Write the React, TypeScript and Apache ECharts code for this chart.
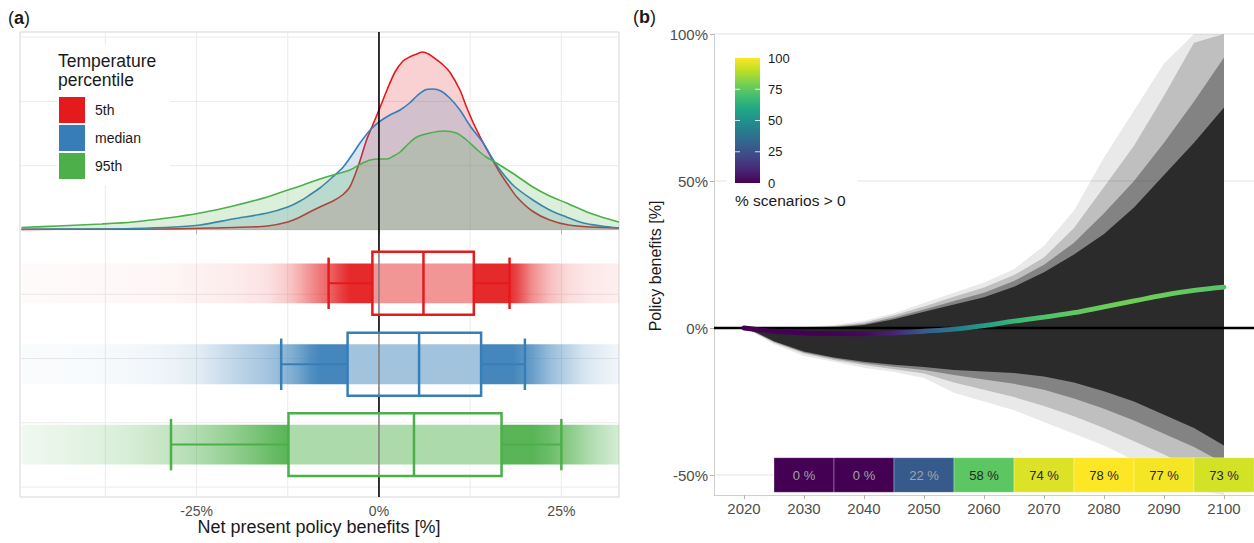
import { useEffect, useRef } from 'react';
import * as echarts from 'echarts';

// ================= Panel (a) data =================
const percentileNames = ['5th', 'median', '95th'];
const percentileColors = ['#e41a1c', '#377eb8', '#4daf4a'];
const xTicksA = [-25, 0, 25];
const xGridA = [-37.5, -25, -12.5, 12.5, 25];

// relative density vs net present policy benefits [%]
const density5th: [number, number][] = [
  [-49, 0.5], [-40, 0.8], [-30, 1], [-24.5, 1.8], [-20, 2.5], [-15.3, 4], [-12.5, 8], [-10.8, 13],
  [-9.5, 18], [-8.1, 23], [-6.3, 29], [-5, 35], [-4, 43], [-2.8, 65], [-1.7, 90], [-0.8, 106],
  [0, 120], [1.1, 140], [2.2, 158], [3.3, 169], [4.2, 173], [5.2, 176], [6.0, 178], [6.8, 176],
  [7.4, 173], [8.8, 165], [9.7, 158], [11.1, 140], [12.0, 123], [13.0, 106], [14.3, 87], [15.5, 71],
  [16.6, 57], [17.8, 44], [18.9, 33], [21, 19], [23.4, 10], [26, 5], [29, 3], [32.9, 2],
];
const densityMedian: [number, number][] = [
  [-49, 0.8], [-40, 1], [-33.7, 1.5], [-28, 3], [-24.5, 5], [-20, 11], [-15.3, 17], [-12.5, 23],
  [-10.8, 29], [-9.5, 35], [-8.1, 42], [-6.5, 52], [-4.9, 63], [-3.7, 75], [-2.6, 87], [-1.2, 100],
  [0, 108], [1.5, 115], [2.9, 120], [4.2, 127], [5.2, 134], [6.3, 140], [7.4, 141], [8.5, 139],
  [9.7, 132], [11.1, 120], [12.5, 104], [14.3, 87], [15.5, 72], [16.6, 60], [18.5, 44], [21.1, 30],
  [23.4, 20], [25.7, 13], [28, 7], [30.5, 4], [32.9, 2],
];
const density95th: [number, number][] = [
  [-49, 2.5], [-44, 4], [-38, 6], [-33.7, 8], [-29, 12], [-24.5, 17], [-20, 24], [-15.3, 33],
  [-12.5, 40], [-10.8, 44], [-8.1, 51], [-6.3, 55], [-4, 60], [-2.5, 66], [-1.2, 70], [0, 71],
  [1.1, 71], [2.0, 74], [2.9, 78], [4, 86], [5.2, 93], [7, 97], [8.8, 99], [10.6, 97],
  [12, 90], [13.5, 80], [14.7, 73], [16.1, 67], [18.5, 56], [21.1, 43], [23.4, 34], [25.7, 27],
  [28.5, 18], [30.5, 13], [32.9, 8],
];
// boxplot stats: [lower whisker, Q1, median, Q3, upper whisker]
const box5th = [-6.9, -0.9, 6.1, 13.0, 17.9];
const boxMedian = [-13.4, -4.3, 5.5, 14.0, 20.0];
const box95th = [-28.5, -12.4, 4.8, 16.8, 25.0];

// ================= Panel (b) data =================
const yearTicks = [2020, 2030, 2040, 2050, 2060, 2070, 2080, 2090, 2100];
const yTicksB = [-50, 0, 50, 100];
const yGridB = [-50, 50, 100];

const fanYears = [2020, 2022, 2025, 2030, 2035, 2040, 2045, 2050, 2055, 2060, 2065, 2070, 2075, 2080, 2085, 2090, 2095, 2100];
const fanOuterHi = [0, 0, 0, 0.3, 1, 2.5, 5, 8.5, 12, 15.5, 20, 28, 40, 58, 74, 90, 112, 145];
const fanMid2Hi = [0, 0, 0, 0.2, 0.7, 1.9, 4.3, 7.3, 10.6, 13.8, 18, 24, 34, 48, 62, 79, 97, 118];
const fanMid1Hi = [0, 0, 0, 0.1, 0.4, 1.4, 3.6, 6.3, 9.2, 12, 16, 21.5, 29, 39, 50, 63, 77, 92];
const fanCoreHi = [0, 0, 0, 0, 0.2, 1, 3, 5.5, 8, 10.5, 14, 19, 25, 32, 41, 52, 63, 75];
const fanCoreLo = [0, -1.5, -4.5, -8, -10, -11.5, -12.5, -13.3, -14.3, -14.8, -15.3, -16.5, -18.5, -21.5, -25, -29.5, -34, -40];
const fanMid1Lo = [0, -1.6, -4.7, -8.3, -10.4, -12, -13.2, -14.3, -16, -17.5, -19, -21, -24, -27.5, -31.5, -36, -40.5, -46];
const fanMid2Lo = [0, -1.8, -5, -8.7, -10.9, -12.6, -14, -15.5, -18.5, -21, -23.5, -26.5, -30, -34, -38.5, -43, -48, -53];
const fanOuterLo = [0, -2, -5.5, -9.5, -11.5, -13.5, -15, -17, -22, -25, -28, -32, -36, -40, -45, -50, -55, -60];

const medianYears = [2020, 2025, 2030, 2035, 2040, 2045, 2050, 2055, 2060, 2065, 2070, 2075, 2080, 2085, 2090, 2095, 2100];
const medianBenefit = [0, -1.1, -1.7, -1.9, -2.0, -1.7, -1.1, -0.4, 0.8, 2.3, 3.7, 5.2, 7.2, 9.2, 11.2, 12.8, 13.9];
const medianShare = [0, 0, 0, 0, 2, 10, 28, 40, 55, 66, 72, 75, 77, 78, 77, 75, 73];

const tileYears = [2030, 2040, 2050, 2060, 2070, 2080, 2090, 2100];
const tileShare = [0, 0, 22, 58, 74, 78, 77, 73];
const colorbarTicks = [0, 25, 50, 75, 100];

// ================= helpers =================
const FONT = '"Liberation Sans", Arial, Helvetica, sans-serif';
const VIRIDIS = ['#440154', '#482475', '#414487', '#355f8d', '#2a788e', '#21918c', '#22a884', '#44bf70', '#7ad151', '#bddf26', '#fde725'];
function hexToRgb(h: string) {
  return [parseInt(h.slice(1, 3), 16), parseInt(h.slice(3, 5), 16), parseInt(h.slice(5, 7), 16)];
}
function viridis(t: number) {
  const tt = Math.max(0, Math.min(1, t)) * 10;
  const i = Math.min(9, Math.floor(tt));
  const f = tt - i;
  const a = hexToRgb(VIRIDIS[i]);
  const b = hexToRgb(VIRIDIS[i + 1]);
  const c = a.map((v, k) => Math.round(v + (b[k] - v) * f));
  return `rgb(${c[0]},${c[1]},${c[2]})`;
}
function rgba(hex: string, a: number) {
  const c = hexToRgb(hex);
  return `rgba(${c[0]},${c[1]},${c[2]},${a})`;
}

// layout constants
const ROW_MIN = 0.845, ROW_MAX = 8.08;
const ROW_POS = [4.17, 2.91, 1.66];
const BOX_HALF = 0.49, CAP_HALF = 0.4, BAND_HALF = 0.31;
const ROW_GRID = [1, 2, 3, 4, 5, 6, 7, 8];
const YB_MIN = -56.8, YB_MAX = 100;
const TILE_TOP = -44.1, TILE_BOTTOM = -55.9;

function vLines(values: number[], xi: number, yi: number, color: string, width: number, z: number) {
  return {
    type: 'custom', xAxisIndex: xi, yAxisIndex: yi, z, silent: true,
    data: values.map((v) => [v, 0]),
    renderItem: (params: any, api: any) => {
      const cs = params.coordSys;
      const p = api.coord([api.value(0), 0]);
      return { type: 'line', shape: { x1: p[0], y1: cs.y, x2: p[0], y2: cs.y + cs.height }, style: { stroke: color, lineWidth: width } };
    },
  };
}
function hLines(values: number[], xi: number, yi: number, color: string, width: number, z: number, refX: number) {
  return {
    type: 'custom', xAxisIndex: xi, yAxisIndex: yi, z, silent: true,
    data: values.map((v) => [refX, v]),
    renderItem: (params: any, api: any) => {
      const cs = params.coordSys;
      const p = api.coord([refX, api.value(1)]);
      return { type: 'line', shape: { x1: cs.x, y1: p[1], x2: cs.x + cs.width, y2: p[1] }, style: { stroke: color, lineWidth: width } };
    },
  };
}

function buildOption() {
  const densities = [density5th, densityMedian, density95th];
  const boxes = [box5th, boxMedian, box95th];
  const series: any[] = [];

  // ---- panel (a) gridlines
  series.push(vLines(xGridA, 0, 0, '#ebebeb', 1, 0));
  series.push(hLines(ROW_GRID, 0, 0, '#ebebeb', 1, 0, 0));

  // ---- point clouds (shaded by density)
  densities.forEach((dens, k) => {
    const x0 = dens[0][0], x1 = dens[dens.length - 1][0];
    const stops = dens.map((d) => ({
      offset: (d[0] - x0) / (x1 - x0),
      color: rgba(percentileColors[k], Math.min(0.93, Math.pow(d[1] / 42, 0.88))),
    }));
    series.push({
      type: 'custom', xAxisIndex: 0, yAxisIndex: 0, z: 1, silent: true,
      data: [[x0, ROW_POS[k]]],
      renderItem: (_p: any, api: any) => {
        const a = api.coord([x0, ROW_POS[k] + BAND_HALF]);
        const b = api.coord([x1, ROW_POS[k] - BAND_HALF]);
        return {
          type: 'rect',
          shape: { x: a[0], y: a[1], width: b[0] - a[0], height: b[1] - a[1] },
          style: { fill: { type: 'linear', x: 0, y: 0, x2: 1, y2: 0, colorStops: stops } },
        };
      },
    });
  });

  // ---- densities
  densities.forEach((dens, k) => {
    series.push({
      type: 'line', name: percentileNames[k], xAxisIndex: 0, yAxisIndex: 1, z: 2 + k * 0.01,
      data: dens, smooth: 0.3, showSymbol: false, silent: true,
      lineStyle: { color: percentileColors[k], width: 1.6 },
      areaStyle: { color: percentileColors[k], opacity: 0.2 },
    });
  });

  // ---- zero line (a)
  series.push(vLines([0], 0, 0, '#000000', 1.6, 3));

  // ---- boxplots
  series.push({
    type: 'custom', xAxisIndex: 0, yAxisIndex: 0, z: 4, silent: true,
    data: boxes.map((b, k) => [...b, ROW_POS[k]]),
    encode: { x: [0, 1, 2, 3, 4], y: 5 },
    renderItem: (params: any, api: any) => {
      const k = params.dataIndex;
      const c = percentileColors[k];
      const [lo, q1, med, q3, hi, row] = [0, 1, 2, 3, 4, 5].map((i) => api.value(i));
      const P = (x: number, y: number) => api.coord([x, y]);
      const ln = (a: number[], b: number[], w: number) => ({ type: 'line', shape: { x1: a[0], y1: a[1], x2: b[0], y2: b[1] }, style: { stroke: c, lineWidth: w } });
      const bt = P(q1, row + BOX_HALF), bb = P(q3, row - BOX_HALF);
      return {
        type: 'group',
        children: [
          ln(P(lo, row), P(q1, row), 2),
          ln(P(q3, row), P(hi, row), 2),
          ln(P(lo, row - CAP_HALF), P(lo, row + CAP_HALF), 2.5),
          ln(P(hi, row - CAP_HALF), P(hi, row + CAP_HALF), 2.5),
          { type: 'rect', shape: { x: bt[0], y: bt[1], width: bb[0] - bt[0], height: bb[1] - bt[1] }, style: { fill: 'rgba(255,255,255,0.5)', stroke: c, lineWidth: 2.5 } },
          ln(P(med, row - BOX_HALF), P(med, row + BOX_HALF), 2.5),
        ],
      };
    },
  });

  // ---- panel (b) gridlines
  series.push(hLines(yGridB, 1, 2, '#e3e3e3', 1, 0, 2020));

  // ---- fan of scenarios
  const layers = [
    { hi: fanOuterHi, lo: fanOuterLo, a: 0.1 },
    { hi: fanMid2Hi, lo: fanMid2Lo, a: 0.22 },
    { hi: fanMid1Hi, lo: fanMid1Lo, a: 0.4 },
    { hi: fanCoreHi, lo: fanCoreLo, a: 1 },
  ];
  series.push({
    type: 'custom', xAxisIndex: 1, yAxisIndex: 2, z: 2, silent: true, clip: true,
    data: fanYears.map((y, i) => [y, fanCoreHi[i]]),
    renderItem: (params: any, api: any) => {
      if (params.dataIndex !== 0) return null;
      return {
        type: 'group',
        children: layers.map((L) => {
          const pts: number[][] = [];
          fanYears.forEach((yr, i) => pts.push(api.coord([yr, Math.min(L.hi[i], YB_MAX)])));
          for (let i = fanYears.length - 1; i >= 0; i--) pts.push(api.coord([fanYears[i], Math.max(L.lo[i], YB_MIN)]));
          return { type: 'polygon', shape: { points: pts }, style: { fill: `rgba(43,43,43,${L.a})` } };
        }),
      };
    },
  });

  // ---- zero line (b)
  series.push(hLines([0], 1, 2, '#000000', 2.6, 3, 2020));

  // ---- median line coloured by share of scenarios > 0
  const medianIdx = series.length;
  series.push({
    type: 'line', xAxisIndex: 1, yAxisIndex: 2, z: 4, silent: true,
    data: medianYears.map((y, i) => [y, medianBenefit[i]]),
    smooth: 0.4, showSymbol: false,
    lineStyle: { width: 4.8, cap: 'round' },
  });

  // ---- tiles
  const tileMax = Math.max(...tileShare);
  series.push({
    type: 'custom', xAxisIndex: 1, yAxisIndex: 2, z: 5, silent: true,
    data: tileYears.map((y, i) => [y, tileShare[i]]),
    renderItem: (_params: any, api: any) => {
      const yr = api.value(0), pct = api.value(1);
      const a = api.coord([yr - 5, TILE_TOP]);
      const b = api.coord([yr + 5, TILE_BOTTOM]);
      const t = pct / tileMax;
      return {
        type: 'group',
        children: [
          { type: 'rect', shape: { x: a[0], y: a[1], width: b[0] - a[0], height: b[1] - a[1] }, style: { fill: viridis(t), stroke: 'rgba(255,255,255,0.3)', lineWidth: 1 } },
          { type: 'text', style: { text: `${pct} %`, x: (a[0] + b[0]) / 2, y: (a[1] + b[1]) / 2, align: 'center', verticalAlign: 'middle', fontSize: 13, fontFamily: FONT, fill: t < 0.5 ? '#a3a3a8' : '#262626' } },
        ],
      };
    },
  });

  const gradStops = VIRIDIS.map((c, i) => ({ offset: i / 10, color: c }));
  const CB_X = 735, CB_Y = 58, CB_W = 25, CB_H = 125;
  const cbY = (v: number) => CB_Y + CB_H * (1 - v / 100);

  const graphic: any[] = [
    // panel labels
    { type: 'text', x: 8, y: 18, z: 20, style: { text: '({b|a})', fontSize: 18, fontFamily: FONT, fill: '#1a1a1a', verticalAlign: 'middle', rich: { b: { fontWeight: 'bold', fontSize: 18, fontFamily: FONT, fill: '#1a1a1a' } } } },
    { type: 'text', x: 633, y: 17, z: 20, style: { text: '({b|b})', fontSize: 18, fontFamily: FONT, fill: '#1a1a1a', verticalAlign: 'middle', rich: { b: { fontWeight: 'bold', fontSize: 18, fontFamily: FONT, fill: '#1a1a1a' } } } },
    // axis titles
    { type: 'text', x: 319, y: 527, z: 20, style: { text: 'Net present policy benefits [%]', fontSize: 18, fontFamily: FONT, fill: '#1a1a1a', align: 'center', verticalAlign: 'middle' } },
    { type: 'text', x: 655, y: 266, rotation: Math.PI / 2, z: 20, style: { text: 'Policy benefits [%]', fontSize: 16, fontFamily: FONT, fill: '#1a1a1a', align: 'center', verticalAlign: 'middle' } },
    // legend (a)
    { type: 'rect', z: 19, shape: { x: 57, y: 45, width: 113, height: 140 }, style: { fill: '#ffffff' } },
    { type: 'text', x: 58, y: 61, z: 20, style: { text: 'Temperature', fontSize: 17.5, fontFamily: FONT, fill: '#1a1a1a', verticalAlign: 'middle' } },
    { type: 'text', x: 58, y: 80, z: 20, style: { text: 'percentile', fontSize: 17.5, fontFamily: FONT, fill: '#1a1a1a', verticalAlign: 'middle' } },
    ...percentileNames.flatMap((n, k) => [
      { type: 'rect', z: 20, shape: { x: 59, y: 97 + 28 * k, width: 26, height: 26 }, style: { fill: percentileColors[k] } },
      { type: 'text', x: 95, y: 110 + 28 * k, z: 20, style: { text: n, fontSize: 14, fontFamily: FONT, fill: '#1a1a1a', verticalAlign: 'middle' } },
    ]),
    // legend (b)
    { type: 'rect', z: 19, shape: { x: 727, y: 45, width: 130, height: 168 }, style: { fill: '#ffffff' } },
    { type: 'rect', z: 20, shape: { x: CB_X, y: CB_Y, width: CB_W, height: CB_H }, style: { fill: { type: 'linear', x: 0, y: 1, x2: 0, y2: 0, colorStops: gradStops } } },
    ...colorbarTicks.flatMap((v) => {
      const y = cbY(v);
      const items: any[] = [
        { type: 'text', x: 768, y, z: 20, style: { text: String(v), fontSize: 13, fontFamily: FONT, fill: '#1a1a1a', verticalAlign: 'middle' } },
      ];
      if (v > 0 && v < 100) {
        items.push({ type: 'line', z: 21, shape: { x1: CB_X, y1: y, x2: CB_X + 5, y2: y }, style: { stroke: 'rgba(255,255,255,0.8)', lineWidth: 1 } });
        items.push({ type: 'line', z: 21, shape: { x1: CB_X + CB_W - 5, y1: y, x2: CB_X + CB_W, y2: y }, style: { stroke: 'rgba(255,255,255,0.8)', lineWidth: 1 } });
      }
      return items;
    }),
    { type: 'text', x: 735, y: 200, z: 20, style: { text: '% scenarios > 0', fontSize: 15.5, fontFamily: FONT, fill: '#1a1a1a', verticalAlign: 'middle' } },
  ];

  return {
    animation: false,
    backgroundColor: '#ffffff',
    textStyle: { fontFamily: FONT },
    grid: [
      { left: 20, top: 32, width: 599, height: 465, show: true, borderColor: '#d6d6d6', borderWidth: 1, backgroundColor: 'transparent' },
      { left: 714, top: 34, width: 541, height: 461 },
    ],
    xAxis: [
      {
        type: 'value', gridIndex: 0, min: -49.2, max: 32.9,
        axisLine: { show: false },
        axisTick: { show: true, length: 4, lineStyle: { color: '#b3b3b3' }, customValues: xTicksA },
        axisLabel: { customValues: xTicksA, formatter: (v: number) => `${v}%`, color: '#4d4d4d', fontSize: 14, margin: 7, fontFamily: FONT },
        splitLine: { show: false },
      },
      {
        type: 'value', gridIndex: 1, min: 2015, max: 2105,
        axisLine: { show: true, onZero: false, lineStyle: { color: '#cfcfcf', width: 1 } },
        axisTick: { show: true, length: 4, lineStyle: { color: '#b3b3b3' }, customValues: yearTicks },
        axisLabel: { customValues: yearTicks, formatter: (v: number) => String(v), color: '#4d4d4d', fontSize: 15, margin: 6, fontFamily: FONT },
        splitLine: { show: false },
      },
    ],
    yAxis: [
      { type: 'value', gridIndex: 0, min: ROW_MIN, max: ROW_MAX, show: false, splitLine: { show: false } },
      { type: 'value', gridIndex: 0, min: -267, max: 198, show: false, splitLine: { show: false } },
      {
        type: 'value', gridIndex: 1, min: YB_MIN, max: YB_MAX,
        axisLine: { show: true, onZero: false, lineStyle: { color: '#cfcfcf', width: 1 } },
        axisTick: { show: true, length: 4, lineStyle: { color: '#b3b3b3' }, customValues: yTicksB },
        axisLabel: { customValues: yTicksB, formatter: (v: number) => `${v}%`, color: '#4d4d4d', fontSize: 15, margin: 6, fontFamily: FONT },
        splitLine: { show: false },
      },
    ],
    visualMap: [
      {
        type: 'continuous', show: false, seriesIndex: medianIdx, dimension: 0,
        min: medianYears[0], max: medianYears[medianYears.length - 1],
        inRange: { color: medianShare.map((s) => viridis(s / 100)) },
      },
    ],
    graphic,
    series,
  };
}

export default function App() {
  const ref = useRef<HTMLDivElement>(null);
  useEffect(() => {
    if (!ref.current) return;
    const chart = echarts.init(ref.current, undefined, { renderer: 'svg' });
    chart.setOption(buildOption() as any);
    return () => chart.dispose();
  }, []);
  return <div ref={ref} style={{ position: 'fixed', left: 0, top: 0, width: 1254, height: 543, background: '#fff' }} />;
}
